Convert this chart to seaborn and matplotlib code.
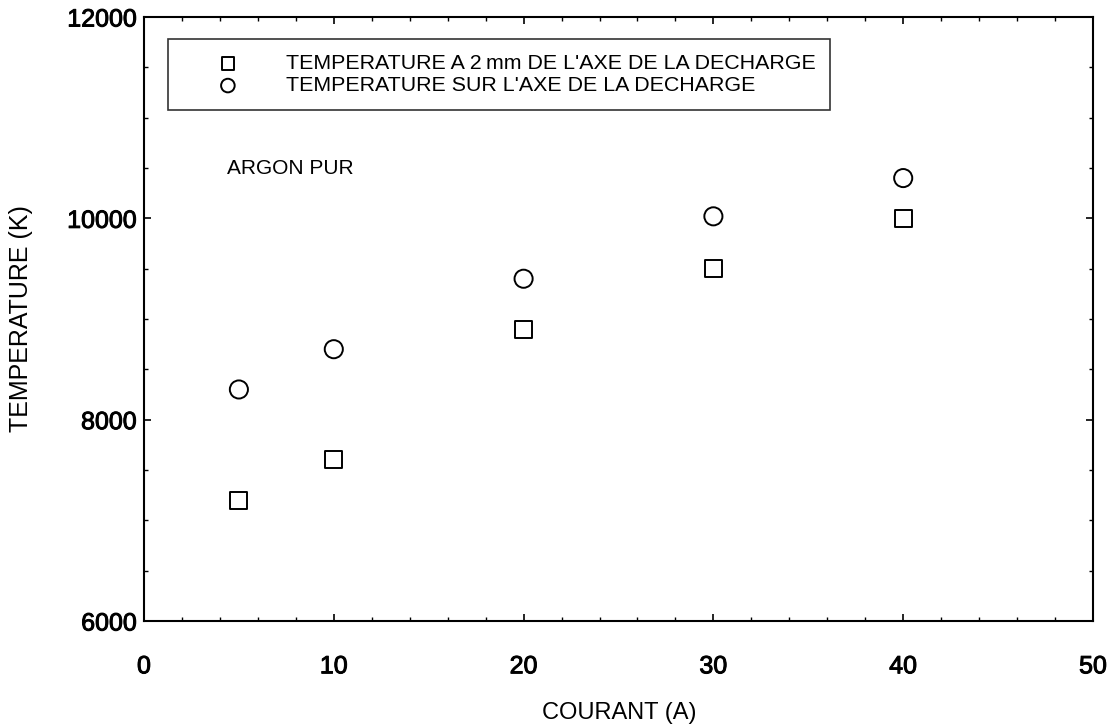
import pandas as pd
import matplotlib.pyplot as plt
import matplotlib.patheffects as pe
import seaborn as sns
from matplotlib.ticker import MultipleLocator

# courant (A) et temperatures
courant = [5, 10, 20, 30, 40]
temp_2mm = [7200, 7600, 8900, 9500, 10000]
temp_axe = [8300, 8700, 9400, 10020, 10400]

label_2mm = "TEMPERATURE A 2\u2009mm DE L'AXE DE LA DECHARGE"
label_axe = "TEMPERATURE SUR L'AXE DE LA DECHARGE"

df = pd.DataFrame({
    "courant": courant + courant,
    "temperature": temp_2mm + temp_axe,
    "serie": [label_2mm] * len(courant) + [label_axe] * len(courant),
})

sns.set_style("ticks")
plt.rcParams['font.family'] = ['Liberation Sans', 'DejaVu Sans']
plt.rcParams['text.color'] = 'black'
plt.rcParams['axes.labelcolor'] = 'black'
plt.rcParams['xtick.color'] = 'black'
plt.rcParams['ytick.color'] = 'black'

fig = plt.figure(figsize=(11.11, 7.27), dpi=100)
ax = fig.add_axes([0.1296, 0.1458, 0.8542, 0.8308])

sns.scatterplot(data=df[df["serie"] == label_2mm], x="courant", y="temperature",
                marker="s", s=150, facecolors="none", edgecolor="black",
                linewidth=1.4, label=label_2mm, ax=ax)
sns.scatterplot(data=df[df["serie"] == label_axe], x="courant", y="temperature",
                marker="o", s=170, facecolors="none", edgecolor="black",
                linewidth=1.4, label=label_axe, ax=ax)

ax.set_xlim(0, 50)
ax.set_ylim(6000, 12000)
ax.xaxis.set_major_locator(MultipleLocator(10))
ax.xaxis.set_minor_locator(MultipleLocator(2))
ax.yaxis.set_major_locator(MultipleLocator(2000))
ax.yaxis.set_minor_locator(MultipleLocator(500))

ax.tick_params(which="both", direction="in", top=True, right=True)
ax.tick_params(which="major", length=5, width=1.2)
ax.tick_params(which="minor", length=3, width=1)
ax.tick_params(axis="x", which="major", pad=24, labelsize=18)
ax.tick_params(axis="y", which="major", pad=5, labelsize=18)
# les chiffres des axes sont un peu plus gras sur l'original
for lab in ax.get_xticklabels() + ax.get_yticklabels():
    lab.set_path_effects([pe.withStroke(linewidth=0.7, foreground="black")])

for sp in ax.spines.values():
    sp.set_color("black")
    sp.set_linewidth(1.5)

ax.set_xlabel("COURANT (A)", fontsize=17)
ax.set_ylabel("TEMPERATURE (K)", fontsize=18)
ax.xaxis.set_label_coords(0.501, -0.134)
ax.yaxis.set_label_coords(-0.117, 0.5)

ax.text(0.088, 0.75, "ARGON PUR", transform=ax.transAxes, fontsize=15,
        va="center", ha="left")

leg = ax.legend(loc="upper left", bbox_to_anchor=(0.0253, 0.9636), borderaxespad=0,
                fontsize=15.4, frameon=True, fancybox=False, edgecolor="black",
                borderpad=0.7, handlelength=4.2, handletextpad=0.6,
                labelspacing=0.15, markerscale=0.75)
leg.get_frame().set_linewidth(1.2)

fig.savefig("out.png", dpi=100)
